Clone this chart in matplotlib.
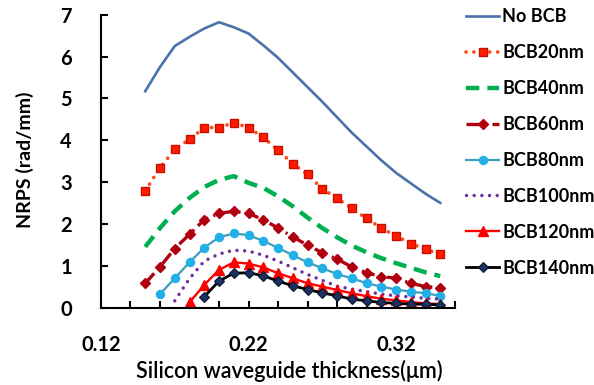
import matplotlib
matplotlib.use("Agg")
import matplotlib.pyplot as plt
from matplotlib.ticker import FixedLocator, MultipleLocator

plt.rcParams['font.family'] = ['Lato', 'DejaVu Sans']

thickness = [0.15, 0.16, 0.17, 0.18, 0.19, 0.20, 0.21, 0.22, 0.23, 0.24, 0.25,
             0.26, 0.27, 0.28, 0.29, 0.30, 0.31, 0.32, 0.33, 0.34, 0.35]

no_bcb = [5.17, 5.75, 6.25, 6.47, 6.67, 6.82, 6.70, 6.55, 6.27, 5.97, 5.62,
          5.27, 4.92, 4.55, 4.18, 3.85, 3.52, 3.22, 2.97, 2.72, 2.50]
bcb20 = [2.79, 3.34, 3.78, 4.02, 4.30, 4.30, 4.42, 4.30, 4.07, 3.76, 3.44,
         3.18, 2.84, 2.61, 2.37, 2.13, 1.90, 1.71, 1.53, 1.39, 1.27]
bcb40 = [1.45, 1.90, 2.30, 2.62, 2.88, 3.05, 3.14, 2.98, 2.86, 2.66, 2.42,
         2.15, 1.90, 1.68, 1.48, 1.32, 1.18, 1.06, 0.95, 0.84, 0.75]
bcb60 = [0.58, 0.97, 1.41, 1.75, 2.10, 2.25, 2.30, 2.25, 2.10, 1.90, 1.69,
         1.49, 1.31, 1.16, 0.97, 0.83, 0.74, 0.70, 0.58, 0.50, 0.47]
x80 = thickness[1:]
bcb80 = [0.32, 0.70, 1.08, 1.43, 1.68, 1.77, 1.73, 1.59, 1.43, 1.25,
         1.08, 0.94, 0.80, 0.70, 0.58, 0.50, 0.43, 0.38, 0.34, 0.28]
x100 = thickness[2:]
bcb100 = [0.16, 0.69, 1.11, 1.28, 1.37, 1.35, 1.25, 1.11, 0.95,
          0.79, 0.65, 0.51, 0.44, 0.38, 0.32, 0.28, 0.25, 0.22, 0.20]
x120 = thickness[3:]
bcb120 = [0.12, 0.54, 0.90, 1.08, 1.05, 0.96, 0.82, 0.70,
          0.58, 0.50, 0.42, 0.34, 0.27, 0.21, 0.17, 0.13, 0.10, 0.08]
x140 = thickness[4:]
bcb140 = [0.26, 0.63, 0.82, 0.83, 0.76, 0.63, 0.52,
          0.43, 0.35, 0.28, 0.20, 0.16, 0.12, 0.10, 0.08, 0.08, 0.06]

labels = ["No BCB", "BCB20nm", "BCB40nm", "BCB60nm", "BCB80nm",
          "BCB100nm", "BCB120nm", "BCB140nm"]

fig = plt.figure(figsize=(5.94, 3.85), dpi=100)
ax = fig.add_axes([101/594, 1 - 307.5/385, 354/594, (307.5 - 14.7)/385])

h = []
h += ax.plot(thickness, no_bcb, color='#4a72aa', lw=1.9, label=labels[0])
h += ax.plot(thickness, bcb20, color='#ff4a1a', lw=2.7,
             linestyle=(0, (0.01, 2.1)), dash_capstyle='round',
             marker='s', ms=5.5, mfc='#ff1a00', mec='#c81000', mew=1.0,
             label=labels[1])
h += ax.plot(thickness, bcb40, color='#00b050', lw=3.2,
             linestyle=(0, (3.0, 1.8)), dash_capstyle='butt', label=labels[2])
h += ax.plot(thickness, bcb60, color='#b00010', lw=2.4,
             linestyle=(0, (4.0, 1.6, 0.6, 1.6)), dash_capstyle='butt',
             marker='D', ms=5.5, mfc='#b00010', mec='#b00010', label=labels[3])
h += ax.plot(x80, bcb80, color='#3d9dbf', lw=1.6,
             marker='o', ms=5.8, mfc='#22b0e6', mec='#22b0e6', label=labels[4])
h += ax.plot(x100, bcb100, color='#7030a0', lw=2.5,
             linestyle=(0, (0.01, 2.2)), dash_capstyle='round', label=labels[5])
h += ax.plot(x120, bcb120, color='#ff0000', lw=1.7,
             marker='^', ms=7, mfc='#ff0000', mec='#ff0000', label=labels[6])
h += ax.plot(x140, bcb140, color='#000000', lw=2.0,
             marker='D', ms=5.0, mfc='#1c3160', mec='#0a1530', mew=0.8,
             label=labels[7])

ax.set_xlim(0.12, 0.36)
ax.set_ylim(0, 7)
for s in ['top', 'right']:
    ax.spines[s].set_visible(False)
for s in ['left', 'bottom']:
    ax.spines[s].set_linewidth(1.5)
    ax.spines[s].set_color('black')

ax.xaxis.set_major_locator(FixedLocator([0.12, 0.22, 0.32]))
ax.xaxis.set_minor_locator(MultipleLocator(0.02))
ax.set_xticklabels(['0.12', '0.22', '0.32'])
ax.yaxis.set_major_locator(MultipleLocator(1))
ax.tick_params(axis='both', which='both', direction='in', length=5, width=1.5)
ax.tick_params(axis='x', which='major', pad=20, labelsize=14.5)
ax.tick_params(axis='y', which='major', pad=21, labelsize=14.5)
for t in ax.get_xticklabels() + ax.get_yticklabels():
    t.set_fontweight('bold')

fig.text(25/594, 1 - 160/385, 'NRPS (rad/mm)', rotation=90, ha='center',
         va='center', fontsize=14, fontweight='bold')
fig.text(289/594, 1 - 371/385, 'Silicon waveguide thickness(μm)', ha='center',
         va='center', fontsize=15.5, fontweight='semibold')

leg = fig.legend(handles=h, loc='upper left',
                 bbox_to_anchor=(466/594, 1 - 8/385), frameon=False,
                 borderpad=0, borderaxespad=0, handlelength=1.85,
                 handletextpad=0.15, labelspacing=1.05, numpoints=1,
                 prop={'size': 13.0, 'weight': 'bold'})

fig.savefig('out.png', dpi=100)
